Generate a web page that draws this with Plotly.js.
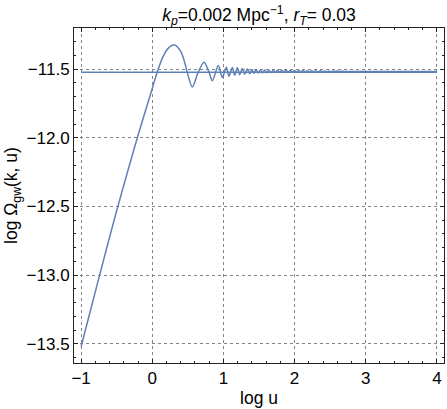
<!DOCTYPE html>
<html>
<head>
<meta charset="utf-8">
<script src="https://cdn.plot.ly/plotly-3.0.1.min.js"></script>
<style>html,body{margin:0;padding:0;background:#fff;}#plot{width:447px;height:409px;}</style>
</head>
<body>
<div id="plot"></div>
<script>
// Oscillating curve: log u vs log Omega_gw(k,u)
const logU = [
  -1.0, -0.75, -0.5, -0.25, -0.1, 0.0, 0.07, 0.15, 0.22, 0.315,
  0.40, 0.45, 0.49, 0.563, 0.647, 0.727, 0.797, 0.844, 0.928, 0.985,
  1.041, 1.079, 1.125, 1.159, 1.196, 1.23, 1.265, 1.30, 1.335, 1.37,
  1.40, 1.43, 1.46, 1.49, 1.52, 1.55, 1.58, 1.61, 1.64, 1.67,
  1.70, 1.73, 1.76, 1.79, 1.82, 1.85, 1.88, 1.91, 1.94, 1.97,
  2.00, 2.03, 2.06, 2.09, 2.12, 2.15, 2.18, 2.21, 2.24, 2.27,
  2.30, 2.33, 2.36, 2.39, 2.42, 2.45, 2.48, 2.51, 2.54, 2.57,
  2.60, 2.63, 2.66, 2.70, 2.80, 3.00, 3.50, 4.00
];
const logOmega = [
  -13.52, -13.02, -12.53, -12.07, -11.81, -11.64, -11.52, -11.41, -11.35, -11.323,
  -11.37, -11.44, -11.52, -11.63, -11.52, -11.449, -11.52, -11.585, -11.474, -11.561,
  -11.485, -11.551, -11.487, -11.544, -11.49, -11.540, -11.495, -11.536, -11.499, -11.533,
  -11.502, -11.530, -11.504, -11.528, -11.505, -11.527, -11.506, -11.526, -11.507, -11.525,
  -11.507, -11.524, -11.508, -11.524, -11.508, -11.523, -11.508, -11.522, -11.509, -11.522,
  -11.509, -11.521, -11.510, -11.521, -11.510, -11.520, -11.511, -11.520, -11.511, -11.519,
  -11.512, -11.519, -11.512, -11.518, -11.513, -11.518, -11.513, -11.518, -11.514, -11.517,
  -11.514, -11.517, -11.515, -11.516, -11.516, -11.516, -11.516, -11.516
];
// Horizontal reference level
const flatU = [-1.0, 4.0];
const flatOmega = [-11.522, -11.522];

const xTicks = [-1, 0, 1, 2, 3, 4];
const yTicks = [-13.5, -13.0, -12.5, -12.0, -11.5];
const yTickText = ['\u221213.5', '\u221213.0', '\u221212.5', '\u221212.0', '\u221211.5'];
const xTickText = ['\u22121', '0', '1', '2', '3', '4'];

const lineColor = '#5e81b5';
const traces = [
  {x: flatU, y: flatOmega, mode: 'lines', line: {color: lineColor, width: 1.5}, hoverinfo: 'skip'},
  {x: logU, y: logOmega, mode: 'lines', line: {color: lineColor, width: 1.5, shape: 'spline', smoothing: 0.8}, hoverinfo: 'skip'}
];

const fontFam = 'Liberation Sans, Arial, sans-serif';
const axisCommon = {
  showline: true, linecolor: '#222', linewidth: 1, mirror: 'allticks',
  ticks: 'inside', ticklen: 4, tickwidth: 1, tickcolor: '#222',
  showgrid: true, gridcolor: '#858585', griddash: 'dot', gridwidth: 1,
  zeroline: false, tickfont: {family: fontFam, size: 17, color: '#000'},
  minor: {ticks: 'inside', ticklen: 2, tickcolor: '#222', showgrid: false}
};

const layout = {
  width: 447, height: 409,
  margin: {l: 74, r: 3, t: 28, b: 46},
  paper_bgcolor: '#fff', plot_bgcolor: '#fff',
  showlegend: false,
  title: {
    text: '<i>k</i><sub><i>p</i></sub>=0.002 Mpc<sup>\u22121</sup>, <i>r</i><sub><i>T</i></sub>= 0.03',
    font: {family: fontFam, size: 17.5, color: '#000'},
    x: 0.5, xref: 'paper', y: 0.963, yref: 'container', yanchor: 'middle'
  },
  xaxis: Object.assign({}, axisCommon, {
    range: [-1.1, 4.1], tickvals: xTicks, ticktext: xTickText,
    minor: Object.assign({}, axisCommon.minor, {dtick: 0.2, tick0: 0}),
    title: {text: 'log u', font: {family: fontFam, size: 17.5, color: '#000'}, standoff: 4}
  }),
  yaxis: Object.assign({}, axisCommon, {
    range: [-13.64, -11.20], tickvals: yTicks, ticktext: yTickText,
    minor: Object.assign({}, axisCommon.minor, {dtick: 0.1, tick0: 0}),
    title: {text: 'log \u03a9<sub>gw</sub>(k, u)', font: {family: fontFam, size: 17.5, color: '#000'}, standoff: 4}
  })
};

Plotly.newPlot('plot', traces, layout, {staticPlot: true, displayModeBar: false});
</script>
</body>
</html>
